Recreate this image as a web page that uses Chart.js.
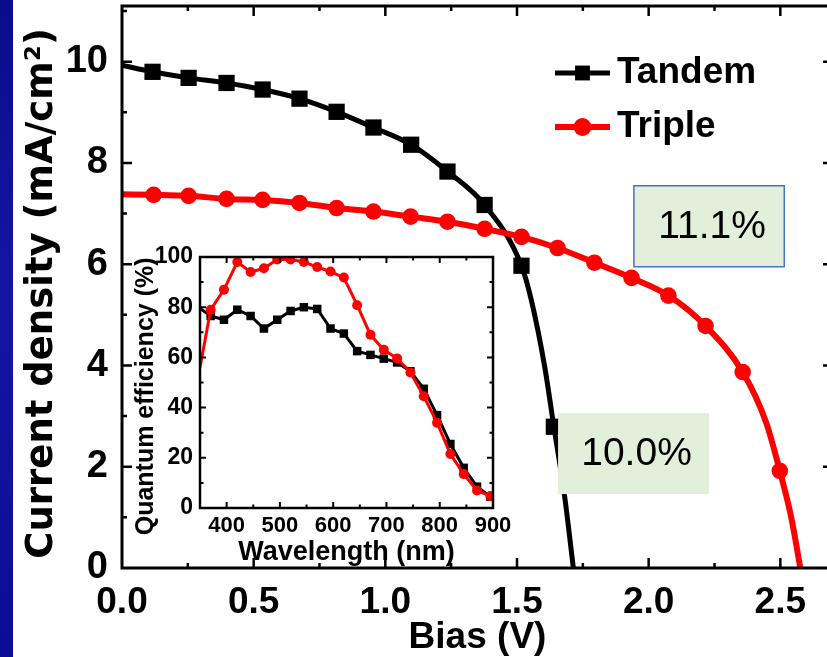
<!DOCTYPE html>
<html>
<head>
<meta charset="utf-8">
<script src="https://cdn.jsdelivr.net/npm/chart.js@4.4.1/dist/chart.umd.min.js"></script>
<style>
  html, body { margin: 0; padding: 0; background: #fff; overflow: hidden; }
  #wrap { position: relative; width: 827px; height: 657px; overflow: hidden; }
  #strip { position: absolute; left: 0; top: 0; width: 13px; height: 657px; z-index: 3;
           background: linear-gradient(#0b0b8e, #1515a4 45%, #0c0c96); }
  #main { position: absolute; left: 0; top: 0; }
  #inset { position: absolute; left: 130px; top: 236px; }
</style>
</head>
<body>
<div id="wrap">
  <canvas id="main" width="840" height="657"></canvas>
  <canvas id="inset" width="390" height="336"></canvas>
  <div id="strip"></div>
</div>
<script>
// ---- main plot: J-V curves (values at the markers) ----
const tandemBias = [0.116, 0.253, 0.397, 0.534, 0.674, 0.815, 0.955, 1.098, 1.236, 1.377, 1.517, 1.640];
const tandemJ    = [9.80, 9.68, 9.58, 9.45, 9.27, 9.01, 8.70, 8.36, 7.83, 7.17, 5.97, 2.79];
// extra points (no marker drawn there)
const tandemLineBias = [0, 1.554, 1.605, 1.681, 1.714];
const tandemLineJ    = [9.93, 5.30, 3.98, 1.41, 0];

const tripleBias = [0.120, 0.253, 0.397, 0.534, 0.674, 0.815, 0.955, 1.096, 1.236, 1.377, 1.517,
                    1.654, 1.794, 1.935, 2.075, 2.216, 2.357, 2.498];
const tripleJ    = [7.37, 7.35, 7.29, 7.27, 7.21, 7.11, 7.04, 6.94, 6.84, 6.70, 6.54,
                    6.32, 6.03, 5.73, 5.38, 4.78, 3.87, 1.92];
const tripleLineBias = [0, 2.447, 2.541, 2.576];
const tripleLineJ    = [7.38, 2.86, 1.01, 0];

const biasTicks = [0, 0.5, 1, 1.5, 2, 2.5];
const currentTicks = [0, 2, 4, 6, 8, 10];
const efficiencies = ['11.1%', '10.0%']; // triple, tandem

// ---- inset: quantum efficiency ----
const qeWavelength = [370, 395, 420, 445, 470, 495, 520, 545, 570, 595, 620, 645, 670, 695, 720, 745, 770, 795, 820, 845, 870, 895];
const tandemQE = [76.5, 75, 79, 76.5, 71.5, 75, 78.5, 80, 79.3, 71.5, 69.5, 62.5, 61, 59.5, 58, 54.5, 47.5, 37, 25.5, 16, 8.5, 4.5];
const tripleQE = [79, 87, 98, 94, 95.5, 99, 99, 98, 96, 94.2, 91.8, 80.8, 69, 63, 59.6, 54, 44.5, 34, 21.5, 13.5, 7, 4.8];
// where the lines start at the left edge of the inset
const qeEdgeWavelength = [350];
const tandemQEEdge = [79.5];
const tripleQEEdge = [56];
const wavelengthTicks = [400, 500, 600, 700, 800, 900];
const qeTicks = [0, 20, 40, 60, 80, 100];

const BLACK = '#000000';
const RED = '#ff0000';

Chart.defaults.color = '#000';
Chart.defaults.font.family = 'Liberation Sans';

function points(xs, ys) {
  return xs.map((x, i) => ({x: x, y: ys[i]}));
}
function curve(xs, ys, xs2, ys2) {
  return points(xs, ys).concat(points(xs2, ys2)).sort((a, b) => a.x - b.x);
}

// box around the plot with inward ticks on all four sides
const frameTicks = {
  id: 'frameTicks',
  afterDraw(chart, args, opts) {
    const {ctx, chartArea: a} = chart;
    ctx.save();
    ctx.strokeStyle = '#000';
    ctx.lineWidth = opts.lineWidth;
    ctx.strokeRect(a.left, a.top, a.right - a.left, a.bottom - a.top);
    ctx.lineWidth = opts.tickWidth;
    const mark = (scale, value, len) => {
      const p = scale.getPixelForValue(value);
      ctx.beginPath();
      if (scale.isHorizontal()) {
        if (p < a.left + 4 || p > a.right - 4) return;
        ctx.moveTo(p, a.bottom); ctx.lineTo(p, a.bottom - len);
        ctx.moveTo(p, a.top); ctx.lineTo(p, a.top + len);
      } else {
        if (p > a.bottom - 4 || p < a.top + 4) return;
        ctx.moveTo(a.left, p); ctx.lineTo(a.left + len, p);
        ctx.moveTo(a.right, p); ctx.lineTo(a.right - len, p);
      }
      ctx.stroke();
    };
    [chart.scales.x, chart.scales.y].forEach(scale => {
      const vals = scale.ticks.map(t => t.value);
      const step = vals[1] - vals[0];
      vals.forEach(v => mark(scale, v, opts.major));
      for (let v = vals[0] - step * 5 + step / 2; v <= scale.max; v += step) {
        if (v > scale.min) mark(scale, v, opts.minor);
      }
    });
    ctx.restore();
  }
};

// legend drawn inside the plot: line + marker + name
const lineLegend = {
  id: 'lineLegend',
  afterDraw(chart, args, opts) {
    if (!opts.items) return;
    const ctx = chart.ctx;
    ctx.save();
    opts.items.forEach((name, i) => {
      const ds = chart.data.datasets.find(d => d.label === name);
      const y = opts.top + i * opts.gap;
      ctx.strokeStyle = ds.borderColor;
      ctx.lineWidth = opts.lineWidth[i];
      ctx.beginPath();
      ctx.moveTo(opts.left, y);
      ctx.lineTo(opts.left + opts.length, y);
      ctx.stroke();
      ctx.fillStyle = ds.backgroundColor;
      Chart.helpers.drawPoint(ctx, {pointStyle: ds.pointStyle, radius: opts.radius[i], rotation: 0, borderWidth: 0},
        opts.left + opts.length / 2, y);
      ctx.fillStyle = '#000';
      ctx.font = 'bold 37px "Liberation Sans"';
      ctx.textBaseline = 'alphabetic';
      ctx.textAlign = 'left';
      ctx.fillText(name, opts.left + opts.length + 7, y + 10);
    });
    ctx.restore();
  }
};

// efficiency labels in green boxes, placed in data units
const percentBoxes = {
  id: 'percentBoxes',
  afterDatasetsDraw(chart, args, opts) {
    if (!opts.boxes) return;
    const {ctx, scales: {x, y}} = chart;
    ctx.save();
    opts.boxes.forEach(b => {
      const l = x.getPixelForValue(b.x0), r = x.getPixelForValue(b.x1);
      const t = y.getPixelForValue(b.y0), btm = y.getPixelForValue(b.y1);
      ctx.fillStyle = '#e2efda';
      ctx.fillRect(l, t, r - l, btm - t);
      if (b.border) {
        ctx.strokeStyle = b.border;
        ctx.lineWidth = 1.5;
        ctx.strokeRect(l, t, r - l, btm - t);
      }
      ctx.fillStyle = '#000';
      ctx.font = '39px "Liberation Sans"';
      ctx.textAlign = 'center';
      ctx.textBaseline = 'middle';
      ctx.fillText(b.text, (l + r) / 2 + 3, (t + btm) / 2 + 1);
    });
    ctx.restore();
  }
};

function noPadding(s) {
  s.paddingTop = 0; s.paddingBottom = 0; s.paddingLeft = 0; s.paddingRight = 0;
}

new Chart(document.getElementById('main'), {
  type: 'line',
  data: {
    datasets: [
      {
        label: 'Triple',
        data: points(tripleBias, tripleJ),
        showLine: false,
        pointStyle: 'circle',
        pointRadius: 8.3,
        backgroundColor: RED,
        borderColor: RED,
        pointBorderWidth: 0
      },
      {
        data: curve(tripleBias, tripleJ, tripleLineBias, tripleLineJ),
        borderColor: RED,
        borderWidth: 6,
        pointRadius: 0,
        cubicInterpolationMode: 'monotone'
      },
      {
        label: 'Tandem',
        data: points(tandemBias, tandemJ),
        showLine: false,
        pointStyle: 'rect',
        pointRadius: 11.5,
        backgroundColor: BLACK,
        borderColor: BLACK,
        pointBorderWidth: 0
      },
      {
        data: curve(tandemBias, tandemJ, tandemLineBias, tandemLineJ),
        borderColor: BLACK,
        borderWidth: 5,
        pointRadius: 0,
        cubicInterpolationMode: 'monotone'
      }
    ]
  },
  options: {
    responsive: false,
    animation: false,
    layout: {autoPadding: false, padding: {top: 6, right: 7, bottom: 0, left: 0}},
    plugins: {
      legend: {display: false},
      tooltip: {enabled: false},
      frameTicks: {lineWidth: 3, tickWidth: 2.5, major: 10, minor: 5},
      lineLegend: {items: ['Tandem', 'Triple'], left: 555, top: 73, gap: 54, length: 55,
                   lineWidth: [5, 6], radius: [10.5, 9]},
      percentBoxes: {boxes: [
        {text: efficiencies[0], x0: 1.944, x1: 2.515, y0: 7.55, y1: 5.95, border: '#4472c4'},
        {text: efficiencies[1], x0: 1.656, x1: 2.229, y0: 3.06, y1: 1.46}
      ]}
    },
    scales: {
      x: {
        type: 'linear',
        min: 0,
        max: 2.7,
        afterBuildTicks: s => { s.ticks = biasTicks.map(v => ({value: v})); },
        afterFit: s => { s.height = 89; noPadding(s); },
        grid: {display: false, drawTicks: false},
        border: {display: false},
        ticks: {
          padding: 13,
          autoSkip: false,
          maxRotation: 0,
          font: {size: 37, weight: 'bold'},
          callback: v => v.toFixed(1)
        },
        title: {
          display: true,
          text: 'Bias (V)',
          font: {size: 37, weight: 'bold', lineHeight: 1},
          padding: {top: 0, bottom: 1}
        }
      },
      y: {
        min: 0,
        max: 11.1,
        afterBuildTicks: s => { s.ticks = currentTicks.map(v => ({value: v})); },
        afterFit: s => { s.width = 122; noPadding(s); },
        grid: {display: false, drawTicks: false},
        border: {display: false},
        ticks: {padding: 14, font: {size: 38, weight: 'bold'}},
        title: {
          display: true,
          text: 'Current density (mA/cm\u00b2) ',
          font: {family: 'DejaVu Sans', size: 37, weight: 'bold', lineHeight: 1},
          padding: {top: 24, bottom: 0}
        }
      }
    }
  },
  plugins: [frameTicks, lineLegend, percentBoxes]
});

new Chart(document.getElementById('inset'), {
  type: 'line',
  data: {
    datasets: [
      {
        label: 'Triple',
        data: curve(qeWavelength, tripleQE, qeEdgeWavelength, tripleQEEdge),
        borderColor: RED,
        backgroundColor: RED,
        borderWidth: 3,
        pointStyle: 'circle',
        pointRadius: ctx => (ctx.raw && ctx.raw.x === qeEdgeWavelength[0] ? 0 : 5),
        pointBorderWidth: 0
      },
      {
        label: 'Tandem',
        data: curve(qeWavelength, tandemQE, qeEdgeWavelength, tandemQEEdge),
        borderColor: BLACK,
        backgroundColor: BLACK,
        borderWidth: 3,
        pointStyle: 'rect',
        pointRadius: ctx => (ctx.raw && ctx.raw.x === qeEdgeWavelength[0] ? 0 : 6),
        pointBorderWidth: 0
      }
    ]
  },
  options: {
    responsive: false,
    animation: false,
    layout: {autoPadding: false, padding: {top: 21, right: 27, bottom: 0, left: 0}},
    plugins: {
      legend: {display: false},
      tooltip: {enabled: false},
      frameTicks: {lineWidth: 2.5, tickWidth: 2, major: 6, minor: 3.5}
    },
    scales: {
      x: {
        type: 'linear',
        min: 350,
        max: 900,
        afterBuildTicks: s => { s.ticks = wavelengthTicks.map(v => ({value: v})); },
        afterFit: s => { s.height = 64; noPadding(s); },
        grid: {display: false, drawTicks: false},
        border: {display: false},
        ticks: {padding: 5, autoSkip: false, maxRotation: 0, font: {size: 22, weight: 'bold'}},
        title: {
          display: true,
          text: 'Wavelength (nm)',
          font: {size: 27, weight: 'bold', lineHeight: 1},
          padding: {top: 0, bottom: 6}
        }
      },
      y: {
        min: 0,
        max: 100,
        afterBuildTicks: s => { s.ticks = qeTicks.map(v => ({value: v})); },
        afterFit: s => { s.width = 70; noPadding(s); },
        grid: {display: false, drawTicks: false},
        border: {display: false},
        ticks: {padding: 7, font: {size: 23, weight: 'bold'}},
        title: {
          display: true,
          // trailing spaces push the rotated title a little lower, as in the figure
          text: 'Quantum efficiency (%)    ',
          font: {size: 25, weight: 'bold', lineHeight: 1},
          padding: {top: 4, bottom: 0}
        }
      }
    }
  },
  plugins: [frameTicks]
});
</script>
</body>
</html>
